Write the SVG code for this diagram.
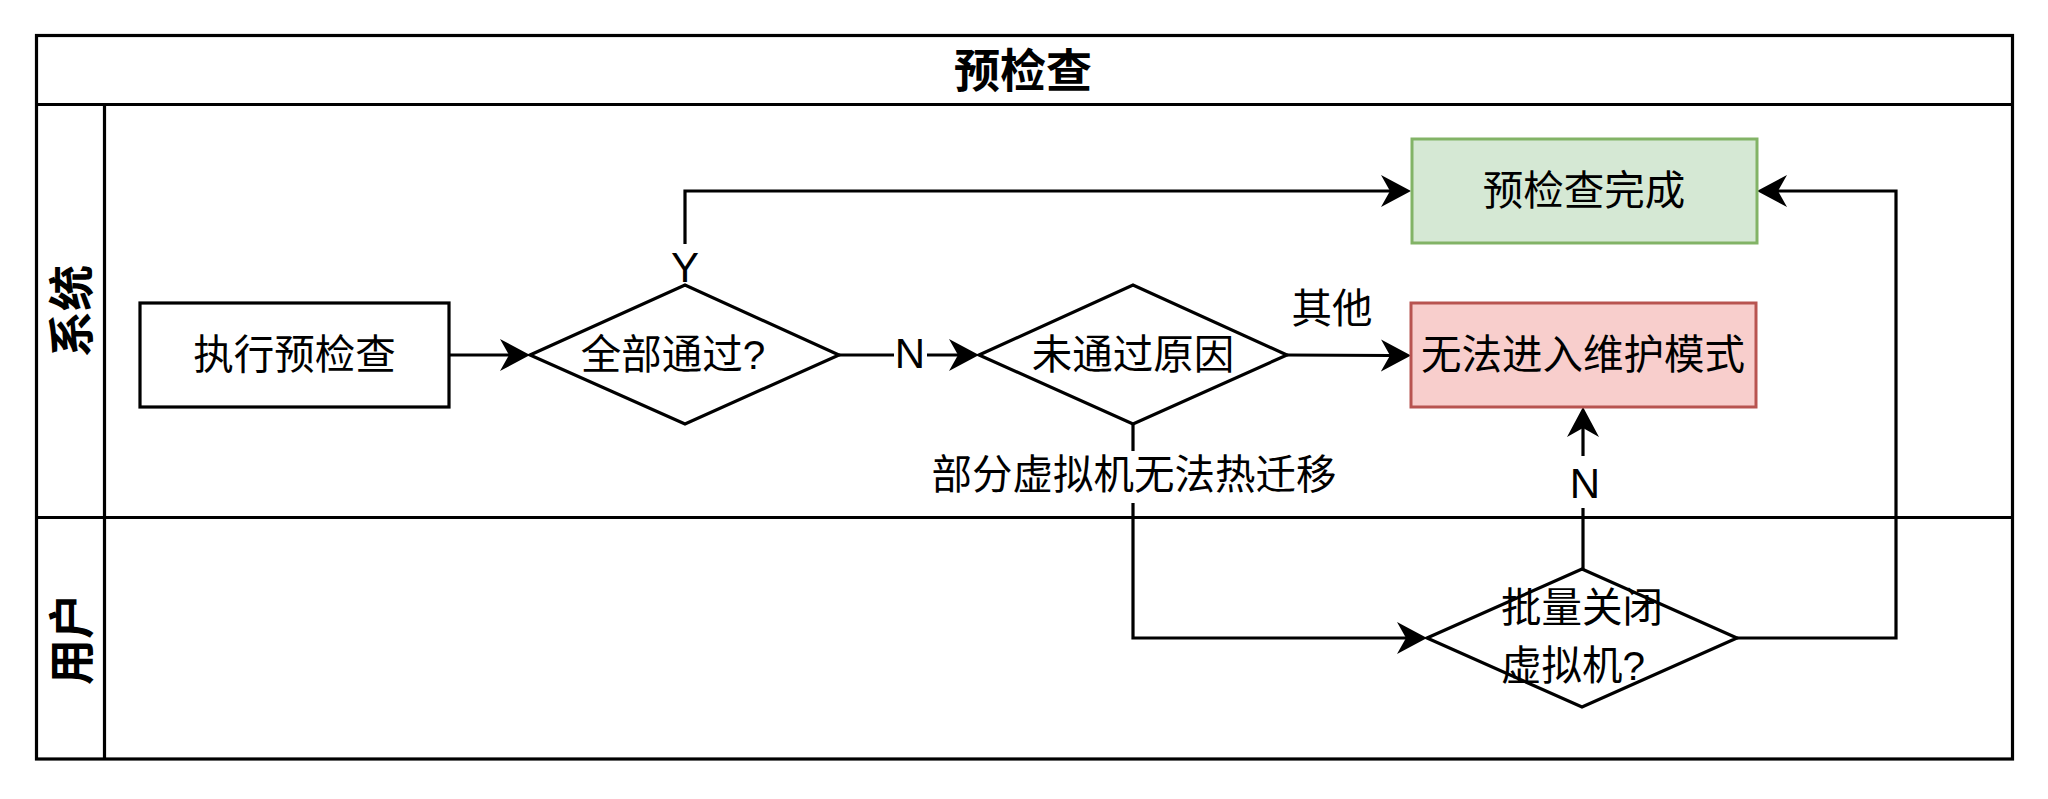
<svg xmlns="http://www.w3.org/2000/svg" width="2048" height="799" viewBox="0 0 2048 799">
<style>
.ln{fill:none;stroke:#000;stroke-width:3.2}
.t{font-family:"Liberation Sans","Noto Sans CJK SC",sans-serif;font-size:40.5px;fill:#000;dominant-baseline:central}
.b{font-weight:bold;font-size:46px}
.l{font-size:42px}
.bg{fill:#fff}
</style>
<defs>
<marker id="arr" markerUnits="userSpaceOnUse" markerWidth="32" markerHeight="34" viewBox="0 0 32 34" refX="9" refY="16" orient="auto">
<path d="M0,0 L30,16 L0,32 L9,16 Z" fill="#000"/>
</marker>
</defs>
<rect width="2048" height="799" fill="#fff"/>
<g id="pool">
<rect class="ln" x="36.5" y="35.5" width="1976" height="723.5"/>
<line class="ln" x1="36.5" y1="104.5" x2="2012.5" y2="104.5"/>
<line class="ln" x1="104.5" y1="104.5" x2="104.5" y2="759"/>
<line class="ln" x1="36.5" y1="517.5" x2="2012.5" y2="517.5"/>
<text class="t b" x="1023" y="71" text-anchor="middle">预检查</text>
<text class="t b" transform="translate(72,311) rotate(-90)" text-anchor="middle">系统</text>
<text class="t b" transform="translate(72,639) rotate(-90)" text-anchor="middle">用户</text>
</g>
<g id="connectors">
<path class="ln" d="M449,355 L509,355" marker-end="url(#arr)"/>
<path class="ln" d="M839,355 L958,355" marker-end="url(#arr)"/>
<path class="ln" d="M685,285 L685,191 L1390,191" marker-end="url(#arr)"/>
<path class="ln" d="M1287,355 L1390,355.5" marker-end="url(#arr)"/>
<path class="ln" d="M1133,424 L1133,638 L1406,638" marker-end="url(#arr)"/>
<path class="ln" d="M1583,569 L1583,428" marker-end="url(#arr)"/>
<path class="ln" d="M1737,638 L1896,638 L1896,191 L1778,191" marker-end="url(#arr)"/>
<rect class="bg" x="671" y="244" width="28" height="40"/>
<text class="t l" x="685" y="267" text-anchor="middle">Y</text>
<rect class="bg" x="894" y="336" width="33" height="36"/>
<text class="t l" x="910" y="353" text-anchor="middle">N</text>
<text class="t" x="1332" y="309" text-anchor="middle">其他</text>
<rect class="bg" x="926" y="451" width="416" height="52"/>
<text class="t" x="1134" y="475" text-anchor="middle">部分虚拟机无法热迁移</text>
<rect class="bg" x="1565" y="456" width="36" height="52"/>
<text class="t l" x="1585" y="483" text-anchor="middle">N</text>
</g>
<g id="start">
<rect class="ln" x="140" y="303" width="309" height="104" fill="#fff"/>
<text class="t" x="294.5" y="355" text-anchor="middle">执行预检查</text>
</g>
<g id="allPass">
<polygon class="ln" points="530,355 685,285 839,355 685,424" fill="#fff"/>
<text class="t" x="673" y="355" text-anchor="middle">全部通过?</text>
</g>
<g id="reason">
<polygon class="ln" points="979,355 1133,285 1287,355 1133,424" fill="#fff"/>
<text class="t" x="1133" y="355" text-anchor="middle">未通过原因</text>
</g>
<g id="done">
<rect x="1412" y="139" width="345" height="104" fill="#d5e8d4" stroke="#82b366" stroke-width="3"/>
<text class="t" x="1584" y="191" text-anchor="middle">预检查完成</text>
</g>
<g id="fail">
<rect x="1411" y="303" width="345" height="104" fill="#f8cecc" stroke="#b85450" stroke-width="3"/>
<text class="t" x="1583" y="355" text-anchor="middle">无法进入维护模式</text>
</g>
<g id="shutdown">
<polygon class="ln" points="1427,638 1582,569 1737,638 1582,707" fill="#fff"/>
<text class="t" x="1501" y="608">批量关闭</text>
<text class="t" x="1501" y="666">虚拟机?</text>
</g>
</svg>
